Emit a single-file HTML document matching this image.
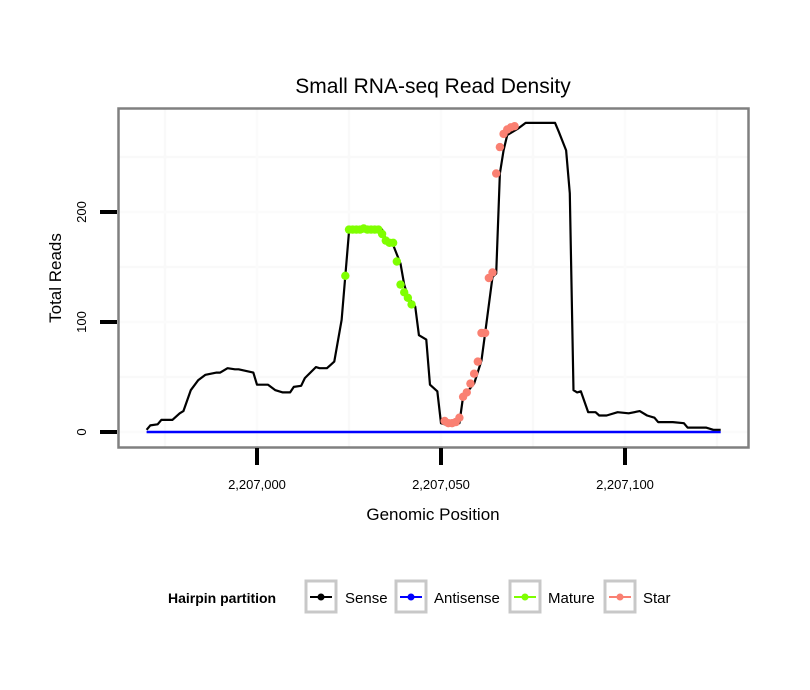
<!DOCTYPE html>
<html><head><meta charset="utf-8"><style>
html,body{margin:0;padding:0;background:#fff;}
svg{display:block;font-family:"Liberation Sans",Arial,sans-serif;}
</style></head><body>
<svg id="chart" width="810" height="690" viewBox="0 0 810 690">
<rect x="0" y="0" width="810" height="690" fill="#fff"/>
<text x="433" y="93" text-anchor="middle" font-size="21">Small RNA-seq Read Density</text>
<g id="grid"></g>
<g id="series"></g>
<rect x="118.5" y="108.5" width="630" height="339" fill="none" stroke="#808080" stroke-width="2.5"/>
<g id="axes"></g>
<text x="433" y="520" text-anchor="middle" font-size="17">Genomic Position</text>
<text transform="translate(61,278) rotate(-90)" text-anchor="middle" font-size="17">Total Reads</text>
<g>
<text x="168" y="603" font-size="14" font-weight="bold">Hairpin partition</text>
<g>
<rect x="306" y="581" width="30" height="31" fill="#fff" stroke="#c8c8c8" stroke-width="3"/>
<line x1="310" y1="597" x2="332" y2="597" stroke="#000" stroke-width="2"/><circle cx="321" cy="597" r="3.5" fill="#000"/>
<text x="345" y="603" font-size="15">Sense</text></g>
<g>
<rect x="396" y="581" width="30" height="31" fill="#fff" stroke="#c8c8c8" stroke-width="3"/>
<line x1="400" y1="597" x2="422" y2="597" stroke="#0000ff" stroke-width="2"/><circle cx="411" cy="597" r="3.5" fill="#0000ff"/>
<text x="434" y="603" font-size="15">Antisense</text></g>
<g>
<rect x="510" y="581" width="30" height="31" fill="#fff" stroke="#c8c8c8" stroke-width="3"/>
<line x1="514" y1="597" x2="536" y2="597" stroke="#7fff00" stroke-width="2"/><circle cx="525" cy="597" r="3.5" fill="#7fff00"/>
<text x="548" y="603" font-size="15">Mature</text></g>
<g>
<rect x="605" y="581" width="30" height="31" fill="#fff" stroke="#c8c8c8" stroke-width="3"/>
<line x1="609" y1="597" x2="631" y2="597" stroke="#fa8072" stroke-width="2"/><circle cx="620" cy="597" r="3.5" fill="#fa8072"/>
<text x="643" y="603" font-size="15">Star</text></g>
</g>
</svg>
<script>
const sensePos = [-30,-29,-27,-26,-23,-21,-20,-18,-16,-14,-11,-10,-8,-6,-5,-1,0,3,5,7,9,10,12,13,16,17,19,20,21,23,24,25,29,34,35,37,39,40,41,43,44,46,47,49,50,52,55,56,59,61,62,64,65,66,67,68,71,73,81,82,84,85,86,87,88,90,92,93,95,98,101,104,106,108,109,113,116,117,122,124,126];
const senseVals = [2,6,7,11,11,17,19,38,47,52,54,54,58,57,57,54,43,43,38,36,36,41,42,49,59,58,58,61,64,102,142,182,184,184,175,170,153,134,123,114,88,84,43,37,8,6,8,32,44,65,90,141,144,235,256,270,276,281,281,273,256,217,38,36,37,18,18,15,15,18,17,19,15,13,9,9,8,4,4,2,2];
const maturePos = [24,25,26,27,28,29,30,31,32,33,34,35,36,37,38,39,40,41,42];
const matureVals = [142,184,184,184,184,185,184,184,184,184,180,174,172,172,155,134,127,122,116];
const starPos = [51,52,53,54,55,56,57,58,59,60,61,62,63,64,65,66,67,68,69,70];
const starVals = [10,8,8,9,13,32,36,44,53,64,90,90,140,145,235,259,271,275,277,278];
const xTicks = [0,50,100];
const xTickLabels = ["2,207,000","2,207,050","2,207,100"];
const yTicks = [0,100,200];
const yTickLabels = ["0","100","200"];
const BASE = 2207000;

const xs = p => 257 + p * 3.68;
const ys = v => 432 - v * 1.1;
const NS = "http://www.w3.org/2000/svg";
function mk(tag, attrs, parent){const e=document.createElementNS(NS,tag);for(const k in attrs)e.setAttribute(k,attrs[k]);parent.appendChild(e);return e;}

const grid = document.getElementById('grid');
const series = document.getElementById('series');
const axes = document.getElementById('axes');
mk('rect',{x:118,y:108,width:630,height:339,fill:'#fff'},grid);
[-25,25,75,125].forEach(p=>{const l=mk('line',{x1:xs(p),x2:xs(p),y1:109,y2:447,stroke:'#f9f9f9','stroke-width':2.5},grid);

});
[50,150,250].forEach(v=>{const l=mk('line',{x1:119,x2:748,y1:ys(v),y2:ys(v),stroke:'#f9f9f9','stroke-width':2.5},grid);

});
xTicks.forEach(p=>{const l=mk('line',{x1:xs(p),x2:xs(p),y1:109,y2:447,stroke:'#fbfbfb','stroke-width':2.5},grid);

});
yTicks.forEach(v=>{const l=mk('line',{x1:119,x2:748,y1:ys(v),y2:ys(v),stroke:'#fbfbfb','stroke-width':2.5},grid);

});

const anti = mk('line',{x1:xs(sensePos[0]),x2:xs(sensePos[sensePos.length-1]),y1:ys(0),y2:ys(0),stroke:'#0000ff','stroke-width':2.5},series);


const sl = mk('polyline',{points:sensePos.map((p,i)=>xs(p)+','+ys(senseVals[i])).join(' '),fill:'none',stroke:'#000','stroke-width':2.2,'stroke-linejoin':'round'},series);


maturePos.forEach((p,i)=>{const c=mk('circle',{cx:xs(p),cy:ys(matureVals[i]),r:4.2,fill:'#7fff00'},series);

});
starPos.forEach((p,i)=>{const c=mk('circle',{cx:xs(p),cy:ys(starVals[i]),r:4.2,fill:'#fa8072'},series);

});

xTicks.forEach((p,i)=>{const t=mk('line',{x1:xs(p),x2:xs(p),y1:448,y2:465,stroke:'#000','stroke-width':4},axes);


const tx=mk('text',{x:xs(p),y:489,'text-anchor':'middle','font-size':13},axes);tx.textContent=xTickLabels[i];

});
yTicks.forEach((v,i)=>{const t=mk('line',{x1:100,x2:117,y1:ys(v),y2:ys(v),stroke:'#000','stroke-width':4},axes);


const tx=mk('text',{transform:'translate(86,'+ys(v)+') rotate(-90)','text-anchor':'middle','font-size':13},axes);tx.textContent=yTickLabels[i];

});
</script>
</body></html>
